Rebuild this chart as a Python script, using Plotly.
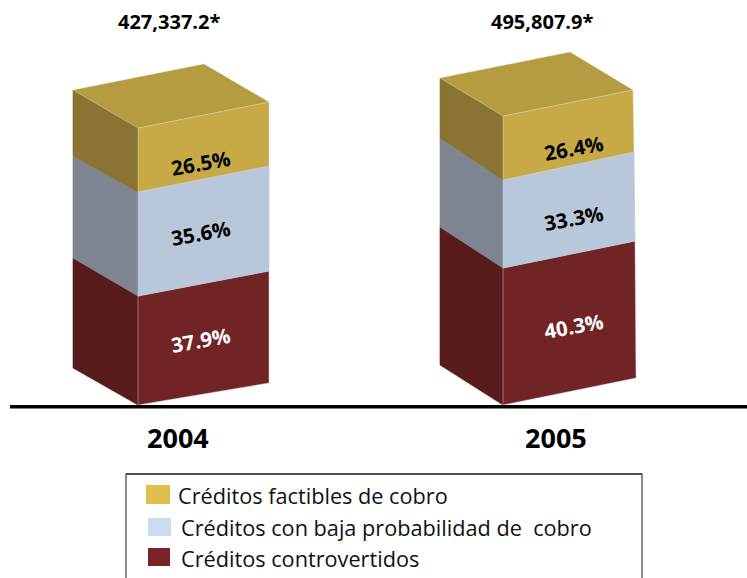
import plotly.graph_objects as go

years = ["2004", "2005"]
totals = ["427,337.2*", "495,807.9*"]
series = ["Créditos controvertidos", "Créditos con baja probabilidad de\u00a0 cobro", "Créditos factibles de cobro"]
shares_2004 = ["37.9%", "35.6%", "26.5%"]
shares_2005 = ["40.3%", "33.3%", "26.4%"]
# segment sizes as drawn in the picture (they are not strictly proportional to the shares)
drawn_2004 = [109, 104, 64]
drawn_2005 = [137, 88, 64]

W, H, BASE = 747, 578, 405
def Y(px):
    return BASE - px

front = ["#702426", "#B9C7DA", "#C7AA45"]
side = ["#581C1C", "#7E8590", "#8A7433"]
top_col = "#B59C40"
label_col = ["white", "black", "black"]
swatch = ["#7A2226", "#CBDCF0", "#DFC04E"]

# per-bar drawing geometry, one entry per level (bottom to top): slight perspective in the original
bars = [
    dict(x=138, rx=[131, 131, 131, 131], ry=[22, 25, 26, 26], lx=[-65, -65, -65, -65], ly=[37, 38, 36, 38],
         drawn=drawn_2004, shares=shares_2004, label_at=[(200, 340), (200, 233), (200, 163)]),
    dict(x=503, rx=[133, 132, 131, 130], ry=[27, 27, 28, 26], lx=[-63, -63, -63, -63], ly=[40, 41, 42, 38],
         drawn=drawn_2005, shares=shares_2005, label_at=[(573, 326), (573, 218), (573, 148)]),
]

fig = go.Figure()

def poly(xs, ys, color, name, edge=None):
    fig.add_trace(go.Scatter(
        x=xs + xs[:1], y=ys + ys[:1], mode="lines", fill="toself", fillcolor=color,
        line=dict(color=edge or color, width=0.6), name=name, showlegend=False, hoverinfo="name"))

annotations = []
for b, year, total in zip(bars, years, totals):
    x0 = b["x"]
    h = 0
    for i, d in enumerate(b["drawn"]):
        lo, hi = h, h + d
        rx0, rx1 = b["rx"][i], b["rx"][i + 1]
        ry0, ry1 = b["ry"][i], b["ry"][i + 1]
        lx0, lx1 = b["lx"][i], b["lx"][i + 1]
        ly0, ly1 = b["ly"][i], b["ly"][i + 1]
        poly([x0, x0 + lx0, x0 + lx1, x0], [lo, lo + ly0, hi + ly1, hi], side[i], series[i])
        poly([x0, x0 + rx0, x0 + rx1, x0], [lo, lo + ry0, hi + ry1, hi], front[i], series[i],
             "rgba(225,215,215,0.75)" if i != 1 else front[i])
        lxp, lyp = b["label_at"][i]
        annotations.append(dict(
            x=lxp, y=Y(lyp), xref="x", yref="y", text=f"<b>{b['shares'][i]}</b>",
            showarrow=False, textangle=-10,
            font=dict(family="Open Sans", size=20.5, color=label_col[i])))
        h = hi
    rx, ry, lx, ly = b["rx"][3], b["ry"][3], b["lx"][3], b["ly"][3]
    poly([x0, x0 + rx, x0 + rx + lx, x0 + lx], [h, h + ry, h + ry + ly, h + ly], top_col, series[2], "rgba(225,215,180,0.6)")
    cx = 178 if year == "2004" else 556
    annotations.append(dict(x=cx, y=Y(437), xref="x", yref="y", text=f"<b>{year}</b>", showarrow=False,
                            font=dict(family="Open Sans", size=27, color="black")))
    tx = 169 if year == "2004" else 542
    annotations.append(dict(x=tx, y=Y(21.5), xref="x", yref="y", text=f"<b>{total}</b>", showarrow=False,
                            font=dict(family="Open Sans", size=20, color="black")))

# ground line
fig.add_trace(go.Scatter(x=[10, W], y=[Y(406.8)] * 2, mode="lines", line=dict(color="black", width=3.6),
                         showlegend=False, hoverinfo="skip"))

shapes = [
    dict(type="rect", xref="x", yref="y", x0=126, x1=642, y0=Y(474), y1=Y(600),
         line=dict(color="#444444", width=1.2), fillcolor="white", layer="below"),
    dict(type="line", xref="x", yref="y", x0=126, x1=642, y0=Y(474), y1=Y(474),
         line=dict(color="black", width=1.2)),
]
legend_rows = [
    (2, 146, 170, 485, 504, 176, 495),
    (1, 148, 171, 518, 536, 179, 527),
    (0, 148, 170, 548, 566, 179, 558),
]
for i, a, b_, t, u, tx, ty in legend_rows:
    shapes.append(dict(type="rect", xref="x", yref="y", x0=a, x1=b_, y0=Y(t), y1=Y(u),
                       line=dict(width=0), fillcolor=swatch[i]))
    annotations.append(dict(x=tx, y=Y(ty), xref="x", yref="y", xanchor="left", text=series[i], showarrow=False,
                            font=dict(family="Open Sans", size=21.7, color="#111111")))

fig.update_layout(
    width=W, height=H, margin=dict(l=0, r=0, t=0, b=0), paper_bgcolor="white", plot_bgcolor="white",
    xaxis=dict(range=[0, W], visible=False, fixedrange=True),
    yaxis=dict(range=[Y(H), Y(0)], visible=False, fixedrange=True),
    shapes=shapes, annotations=annotations, showlegend=False,
)
fig.write_html("out.html", post_script="document.body.style.margin='0';", config=dict(displayModeBar=False))
